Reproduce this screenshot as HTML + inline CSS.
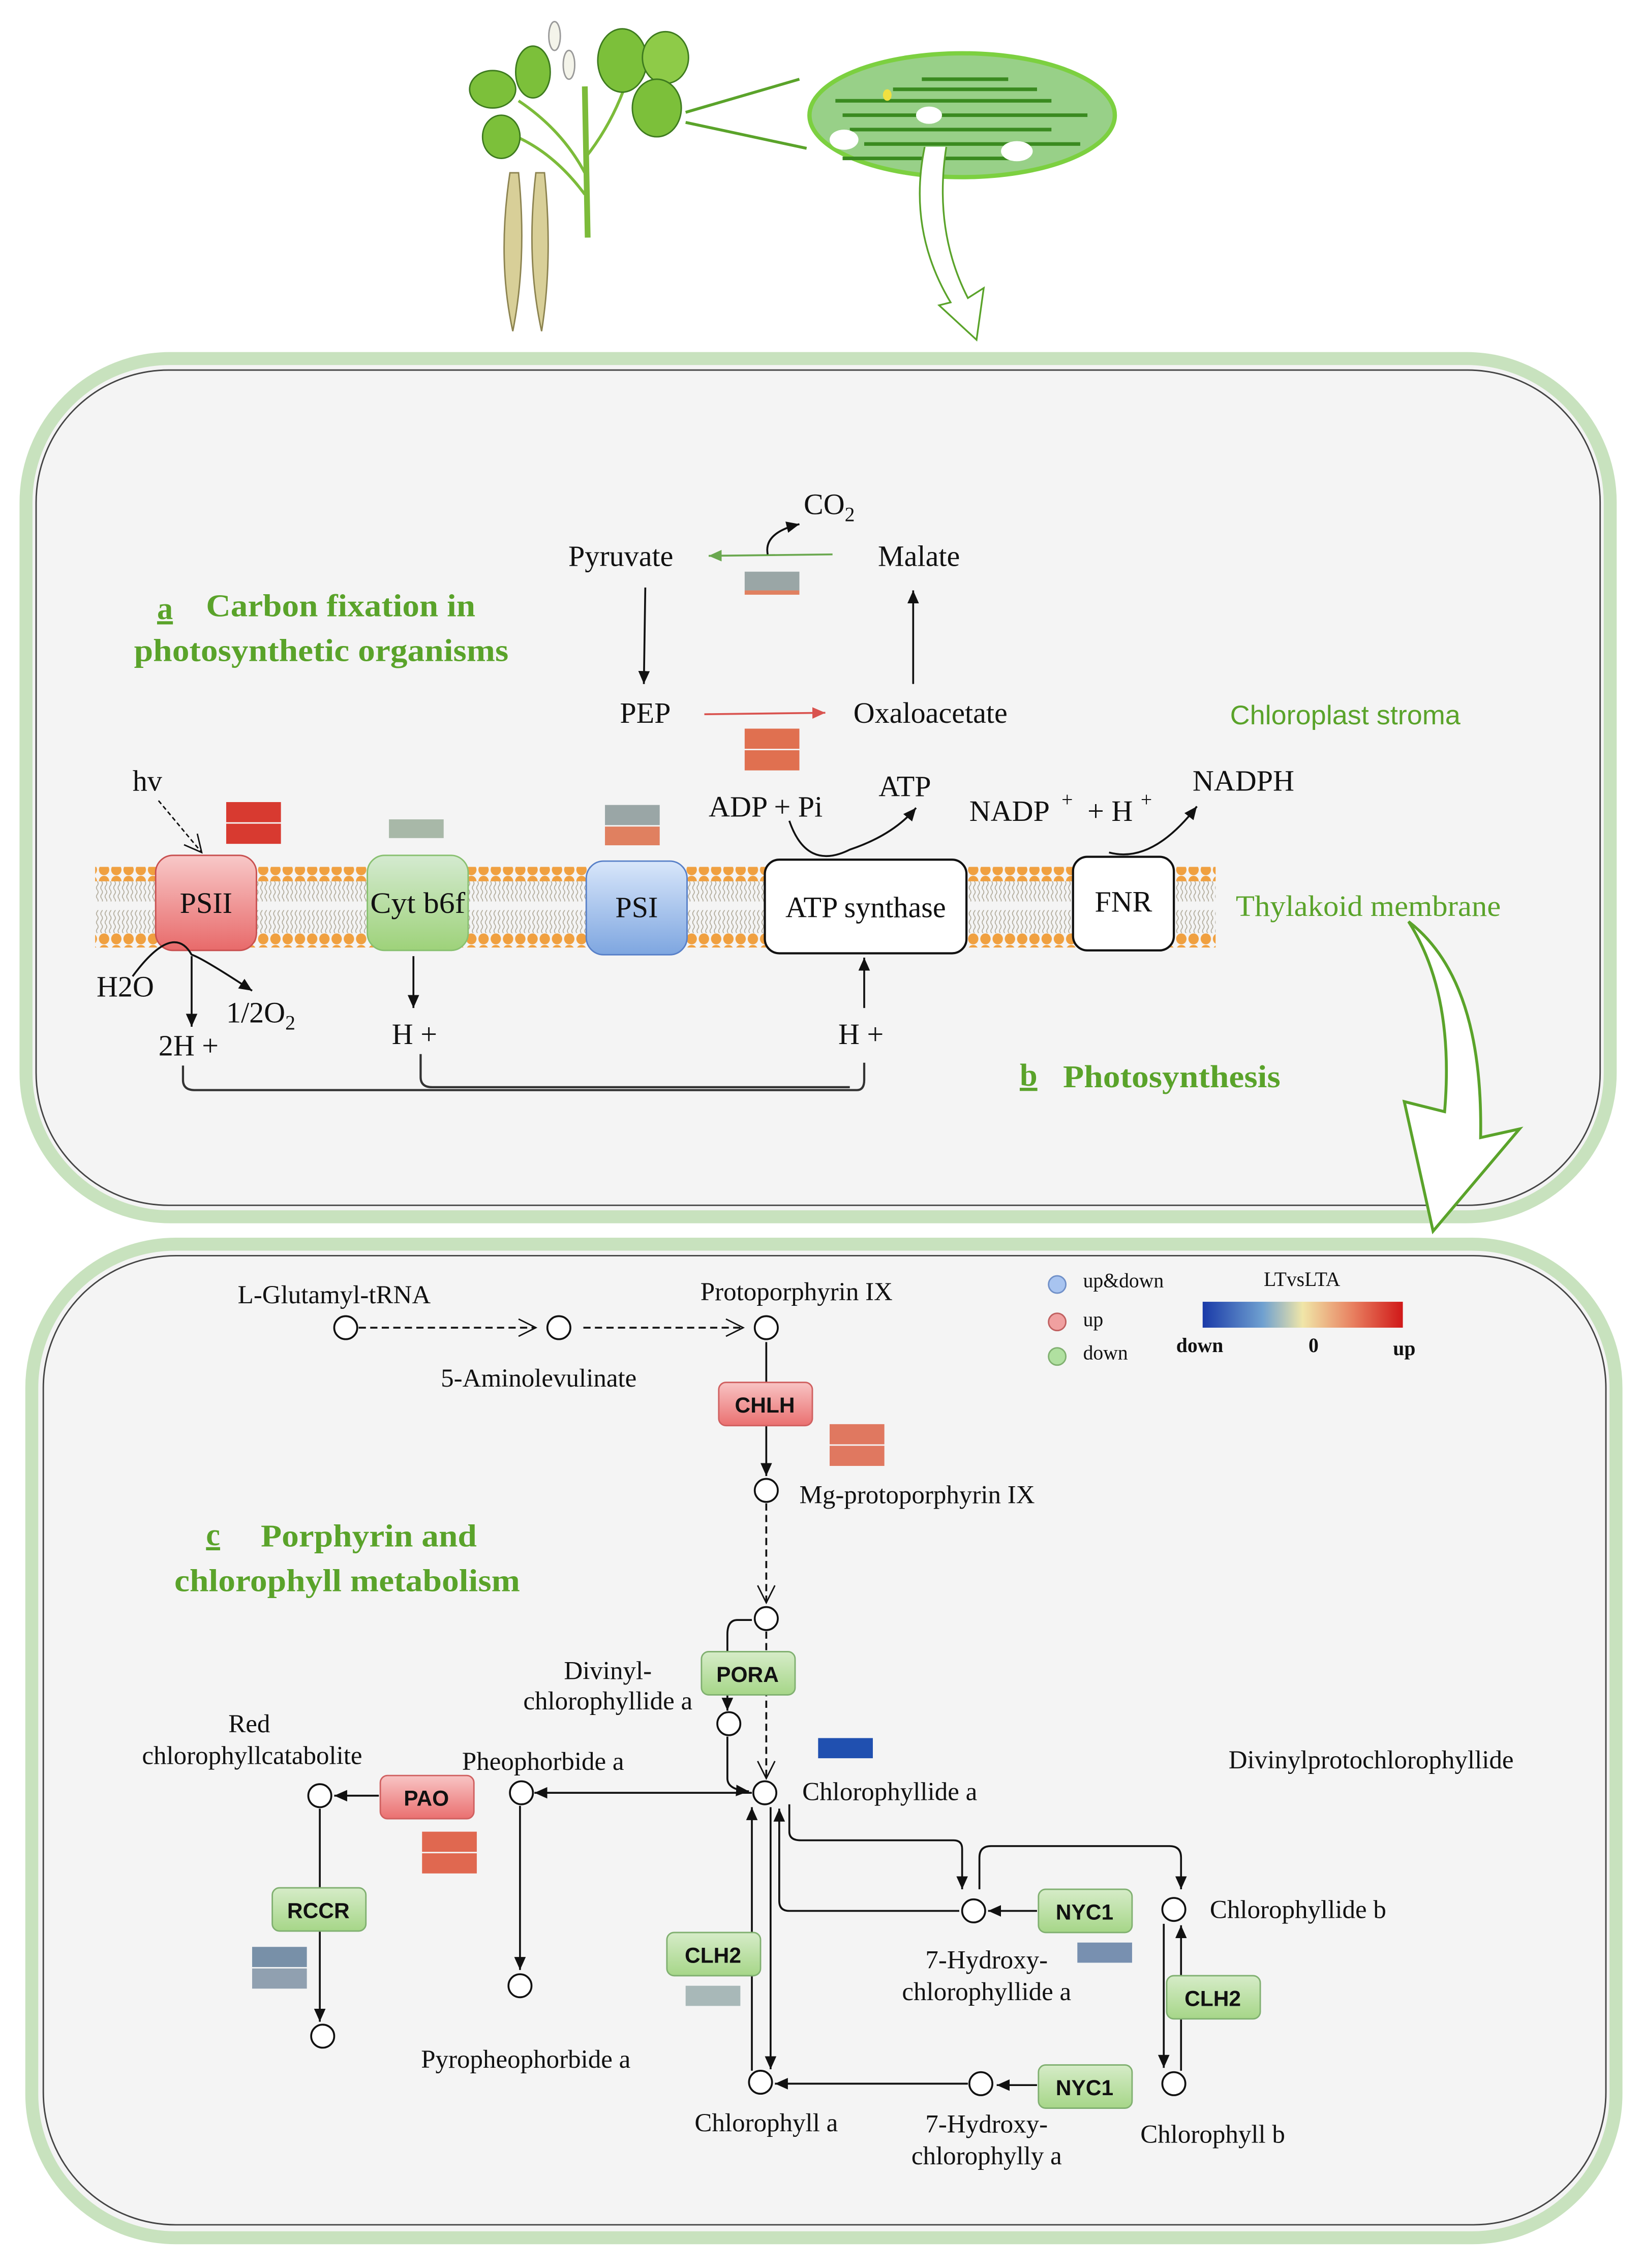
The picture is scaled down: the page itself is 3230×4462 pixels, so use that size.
<!DOCTYPE html>
<html><head><meta charset="utf-8"><style>
html,body{margin:0;padding:0;background:#fff}
svg{display:block}
text{font-family:"Liberation Serif",serif;fill:#111}
.s{font-family:"Liberation Sans",sans-serif}
.g{font-family:"Liberation Sans",sans-serif;font-weight:bold;font-size:15px;fill:#111}
.t{font-weight:bold;fill:#5aa32a;font-size:22px}
</style></head><body>
<svg width="3230" height="4462" viewBox="0 0 1140 1575" xmlns="http://www.w3.org/2000/svg">
<defs>
<marker id="a" markerWidth="10" markerHeight="10" refX="9" refY="5" orient="auto" markerUnits="userSpaceOnUse"><path d="M0,1 L9,5 L0,9 z" fill="#111"/></marker>
<marker id="o" markerWidth="14" markerHeight="14" refX="13" refY="7" orient="auto" markerUnits="userSpaceOnUse"><path d="M1,1 L13,7 L1,13" fill="none" stroke="#111" stroke-width="1"/></marker>
<marker id="ga" markerWidth="10" markerHeight="10" refX="9" refY="5" orient="auto" markerUnits="userSpaceOnUse"><path d="M0,1 L9,5 L0,9 z" fill="#6aa84f"/></marker>
<marker id="ra" markerWidth="10" markerHeight="10" refX="9" refY="5" orient="auto" markerUnits="userSpaceOnUse"><path d="M0,1 L9,5 L0,9 z" fill="#d9534f"/></marker>
<pattern id="dots" width="8.5" height="8" patternUnits="userSpaceOnUse"><ellipse cx="4.2" cy="4" rx="3.6" ry="3.8" fill="#f0a040"/></pattern>
<pattern id="wav" width="3" height="6" patternUnits="userSpaceOnUse"><path d="M1.5,0 q1.2,1.5 0,3 q-1.2,1.5 0,3" stroke="#b0aa9a" stroke-width="0.6" fill="none"/></pattern>
<linearGradient id="gr" x1="0" y1="0" x2="0" y2="1"><stop offset="0" stop-color="#f8c8c8"/><stop offset="1" stop-color="#e86a6a"/></linearGradient>
<linearGradient id="gg" x1="0" y1="0" x2="0" y2="1"><stop offset="0" stop-color="#d4ead0"/><stop offset="1" stop-color="#9ed27a"/></linearGradient>
<linearGradient id="gb" x1="0" y1="0" x2="0" y2="1"><stop offset="0" stop-color="#d8e6fa"/><stop offset="1" stop-color="#7ea6e0"/></linearGradient>
<linearGradient id="gn" x1="0" y1="0" x2="0" y2="1"><stop offset="0" stop-color="#d6ecc8"/><stop offset="1" stop-color="#a6d688"/></linearGradient>
<linearGradient id="gp" x1="0" y1="0" x2="0" y2="1"><stop offset="0" stop-color="#f8c4c4"/><stop offset="1" stop-color="#ea7070"/></linearGradient>
<linearGradient id="hm" x1="0" y1="0" x2="1" y2="0"><stop offset="0" stop-color="#1a3aa8"/><stop offset="0.3" stop-color="#6fa0d0"/><stop offset="0.5" stop-color="#f0e6a8"/><stop offset="0.75" stop-color="#e88060"/><stop offset="1" stop-color="#d01818"/></linearGradient>
</defs>
<rect width="1140" height="1575" fill="#fff"/>

<!-- plant -->
<g>
<path d="M408,165 L406,60" stroke="#7cbb3a" stroke-width="4" fill="none"/>
<path d="M406,120 Q390,90 360,70 M406,110 Q430,80 440,40 M406,135 Q380,100 345,90" stroke="#7cbb3a" stroke-width="2" fill="none"/>
<ellipse cx="342" cy="62" rx="16" ry="13" fill="#7cc03a" stroke="#3d7a1e"/>
<ellipse cx="370" cy="50" rx="12" ry="18" fill="#7cc03a" stroke="#3d7a1e"/>
<ellipse cx="348" cy="95" rx="13" ry="15" fill="#7cc03a" stroke="#3d7a1e"/>
<ellipse cx="432" cy="42" rx="17" ry="22" fill="#7cc03a" stroke="#3d7a1e"/>
<ellipse cx="462" cy="40" rx="16" ry="18" fill="#8ecb48" stroke="#3d7a1e"/>
<ellipse cx="456" cy="75" rx="17" ry="20" fill="#7cc03a" stroke="#3d7a1e"/>
<ellipse cx="385" cy="25" rx="4" ry="10" fill="#f4f4ea" stroke="#999"/>
<ellipse cx="395" cy="45" rx="4" ry="10" fill="#f4f4ea" stroke="#999"/>
<path d="M354,120 Q345,180 356,230 Q366,180 360,120z" fill="#d8cf98" stroke="#8c8350"/>
<path d="M372,120 Q365,180 376,230 Q384,180 378,120z" fill="#d8cf98" stroke="#8c8350"/>
<line x1="476" y1="78" x2="555" y2="55" stroke="#5aa32a" stroke-width="2"/>
<line x1="476" y1="85" x2="560" y2="103" stroke="#5aa32a" stroke-width="2"/>
<ellipse cx="668" cy="80" rx="106" ry="43" fill="#98d088" stroke="#7cd040" stroke-width="3"/>
<g stroke="#3a8a20" stroke-width="2.5" fill="none">
<path d="M580,70 h150 M585,80 h170 M590,90 h140 M600,100 h150 M585,110 h120 M620,62 h100 M640,55 h60"/>
</g>
<ellipse cx="645" cy="80" rx="9" ry="6" fill="#fff"/><ellipse cx="586" cy="97" rx="10" ry="7" fill="#fff"/><ellipse cx="706" cy="105" rx="11" ry="7" fill="#fff"/>
<ellipse cx="616" cy="66" rx="3" ry="4" fill="#f0e040"/>
<path d="M642,102 Q630,160 660,210 L652,212 L678,236 L683,200 L672,207 Q648,160 657,102" fill="#fff" stroke="#5aa32a" stroke-width="1.2"/>
</g>

<!-- panel 1 -->
<rect x="18" y="249" width="1100" height="596" rx="100" fill="#f4f4f4" stroke="#c8e2be" stroke-width="9"/>
<rect x="25" y="257" width="1086" height="580" rx="92" fill="#f4f4f4" stroke="#444" stroke-width="1"/>
<!-- panel 2 -->
<rect x="22" y="864" width="1100" height="690" rx="100" fill="#f4f4f4" stroke="#c8e2be" stroke-width="9"/>
<rect x="30" y="872" width="1085" height="673" rx="92" fill="#f4f4f4" stroke="#444" stroke-width="1"/>

<!-- membrane -->
<rect x="66" y="602" width="778" height="10" fill="url(#dots)"/>
<rect x="66" y="648" width="778" height="10" fill="url(#dots)"/>
<rect x="66" y="612" width="778" height="14" fill="url(#wav)"/>
<rect x="66" y="632" width="778" height="16" fill="url(#wav)"/>

<rect x="108" y="594" width="70" height="66" rx="12" fill="url(#gr)" stroke="#c85050"/>
<text x="143" y="634" font-size="20.5" text-anchor="middle">PSII</text>
<rect x="255" y="594" width="70" height="66" rx="12" fill="url(#gg)" stroke="#88c070"/>
<text x="290" y="634" font-size="20.5" text-anchor="middle" textLength="66" lengthAdjust="spacingAndGlyphs">Cyt b6f</text>
<rect x="407" y="598" width="70" height="65" rx="12" fill="url(#gb)" stroke="#5880c8"/>
<text x="442" y="637" font-size="20.5" text-anchor="middle">PSI</text>
<rect x="531" y="597" width="140" height="65" rx="10" fill="#fff" stroke="#111" stroke-width="1.5"/>
<text x="601" y="637" font-size="20.5" text-anchor="middle">ATP synthase</text>
<rect x="745" y="595" width="70" height="65" rx="10" fill="#fff" stroke="#111" stroke-width="1.5"/>
<text x="780" y="633" font-size="20.5" text-anchor="middle">FNR</text>

<!-- heat bars panel1 -->
<rect x="157" y="557" width="38" height="14" fill="#d83a30"/><rect x="157" y="572" width="38" height="14" fill="#d83a30"/>
<rect x="270" y="569" width="38" height="13" fill="#a8b8a8"/>
<rect x="420" y="559" width="38" height="14" fill="#9aa6a6"/><rect x="420" y="574" width="38" height="13" fill="#e08060"/>
<rect x="517" y="397" width="38" height="13" fill="#9aa6a6"/><rect x="517" y="410" width="38" height="3" fill="#e08060"/>
<rect x="517" y="506" width="38" height="14" fill="#e07050"/><rect x="517" y="521" width="38" height="14" fill="#e07050"/>

<!-- carbon fixation -->
<text x="431" y="393" font-size="20.5" text-anchor="middle">Pyruvate</text>
<text x="638" y="393" font-size="20.5" text-anchor="middle">Malate</text>
<text x="448" y="502" font-size="20.5" text-anchor="middle">PEP</text>
<text x="646" y="502" font-size="20.5" text-anchor="middle">Oxaloacetate</text>
<text x="558" y="357" font-size="20.5">CO<tspan font-size="14" dy="5">2</tspan></text>
<line x1="578" y1="385" x2="492" y2="386" stroke="#6aa84f" stroke-width="1.3" marker-end="url(#ga)"/>
<path d="M533,385 Q530,370 555,364" stroke="#111" fill="none" stroke-width="1.3" marker-end="url(#a)"/>
<line x1="448" y1="408" x2="447" y2="475" stroke="#111" stroke-width="1.3" marker-end="url(#a)"/>
<line x1="489" y1="496" x2="573" y2="495" stroke="#d9534f" stroke-width="1.3" marker-end="url(#ra)"/>
<line x1="634" y1="475" x2="634" y2="410" stroke="#111" stroke-width="1.3" marker-end="url(#a)"/>
<text x="109" y="430" class="t" font-size="24"><tspan text-decoration="underline">a</tspan></text>
<text x="143" y="428" class="t" textLength="187" lengthAdjust="spacingAndGlyphs">Carbon fixation in</text>
<text x="93" y="459" class="t" textLength="260" lengthAdjust="spacingAndGlyphs">photosynthetic organisms</text>
<text x="854" y="503" class="s" font-size="18.5" style="fill:#5aa32a" textLength="160" lengthAdjust="spacingAndGlyphs">Chloroplast stroma</text>
<text x="858" y="636" font-size="20.5" style="fill:#5aa32a" textLength="184" lengthAdjust="spacingAndGlyphs">Thylakoid membrane</text>
<text x="708" y="754" class="t" font-size="24"><tspan text-decoration="underline">b</tspan></text>
<text x="738" y="755" class="t" textLength="151" lengthAdjust="spacingAndGlyphs">Photosynthesis</text>

<!-- photosynthesis texts -->
<text x="92" y="549" font-size="20.5">hv</text>
<path d="M110,556 L140,592" stroke="#111" stroke-dasharray="3,2" fill="none" marker-end="url(#o)"/>
<text x="492" y="567" font-size="20.5">ADP + Pi</text>
<text x="610" y="553" font-size="20.5">ATP</text>
<path d="M548,570 Q560,605 590,590 Q620,580 636,561" stroke="#111" fill="none" stroke-width="1.3" marker-end="url(#a)"/>
<text x="673" y="570" font-size="20.5">NADP</text><text x="737" y="560" font-size="14">+</text>
<text x="755" y="570" font-size="20.5">+ H</text><text x="792" y="560" font-size="14">+</text>
<text x="828" y="549" font-size="20.5">NADPH</text>
<path d="M770,592 Q800,600 831,560" stroke="#111" fill="none" stroke-width="1.3" marker-end="url(#a)"/>
<text x="67" y="692" font-size="20.5">H2O</text>
<text x="157" y="710" font-size="20.5">1/2O<tspan font-size="14" dy="5">2</tspan></text>
<text x="110" y="733" font-size="20.5">2H +</text>
<text x="272" y="725" font-size="20.5">H +</text>
<text x="582" y="725" font-size="20.5">H +</text>
<path d="M92,678 Q120,640 133,663 Q140,665 175,688" stroke="#111" fill="none" stroke-width="1.3" marker-end="url(#a)"/>
<line x1="133" y1="664" x2="133" y2="713" stroke="#111" stroke-width="1.3" marker-end="url(#a)"/>
<line x1="287" y1="664" x2="287" y2="700" stroke="#111" stroke-width="1.3" marker-end="url(#a)"/>
<line x1="600" y1="700" x2="600" y2="665" stroke="#111" stroke-width="1.3" marker-end="url(#a)"/>
<path d="M127,740 V750 Q127,757 135,757 H595 Q600,757 600,750 V738" stroke="#333" fill="none" stroke-width="1.5"/>
<path d="M292,732 V748 Q292,755 300,755 H590" stroke="#333" fill="none" stroke-width="1.5"/>

<!-- big arrow -->
<path d="M978,640 Q1030,680 1028,790 L1055,784 L995,855 L975,765 L1003,772 Q1010,690 978,640z" fill="#fff" stroke="#5aa32a" stroke-width="2"/>

<!-- panel 2 -->
<g>
<text x="232" y="905" font-size="18" text-anchor="middle">L-Glutamyl-tRNA</text>
<text x="374" y="963" font-size="18" text-anchor="middle">5-Aminolevulinate</text>
<text x="553" y="903" font-size="18" text-anchor="middle">Protoporphyrin IX</text>
<text x="555" y="1044" font-size="18">Mg-protoporphyrin IX</text>
<text x="422" y="1166" font-size="18" text-anchor="middle">Divinyl-</text>
<text x="422" y="1187" font-size="18" text-anchor="middle">chlorophyllide a</text>
<text x="557" y="1250" font-size="18">Chlorophyllide a</text>
<text x="853" y="1228" font-size="18">Divinylprotochlorophyllide</text>
<text x="173" y="1203" font-size="18" text-anchor="middle">Red</text>
<text x="175" y="1225" font-size="18" text-anchor="middle">chlorophyllcatabolite</text>
<text x="377" y="1229" font-size="18" text-anchor="middle">Pheophorbide a</text>
<text x="365" y="1436" font-size="18" text-anchor="middle">Pyropheophorbide a</text>
<text x="840" y="1332" font-size="18">Chlorophyllide b</text>
<text x="685" y="1367" font-size="18" text-anchor="middle">7-Hydroxy-</text>
<text x="685" y="1389" font-size="18" text-anchor="middle">chlorophyllide a</text>
<text x="532" y="1480" font-size="18" text-anchor="middle">Chlorophyll a</text>
<text x="685" y="1481" font-size="18" text-anchor="middle">7-Hydroxy-</text>
<text x="685" y="1503" font-size="18" text-anchor="middle">chlorophylly a</text>
<text x="842" y="1488" font-size="18" text-anchor="middle">Chlorophyll b</text>
</g>
<text x="143" y="1073" class="t" font-size="24"><tspan text-decoration="underline">c</tspan></text>
<text x="181" y="1074" class="t" textLength="150" lengthAdjust="spacingAndGlyphs">Porphyrin and</text>
<text x="121" y="1105" class="t" textLength="240" lengthAdjust="spacingAndGlyphs">chlorophyll metabolism</text>

<!-- legend -->
<circle cx="734" cy="892" r="6" fill="#a8c4f0" stroke="#7090c8"/><text x="752" y="894" font-size="14">up&amp;down</text>
<circle cx="734" cy="918" r="6" fill="#f0a0a0" stroke="#c06060"/><text x="752" y="921" font-size="14">up</text>
<circle cx="734" cy="942" r="6" fill="#b0e0a0" stroke="#80b070"/><text x="752" y="944" font-size="14">down</text>
<text x="904" y="893" font-size="14" text-anchor="middle">LTvsLTA</text>
<rect x="835" y="904" width="139" height="18" fill="url(#hm)"/>
<text x="833" y="939" font-size="14" font-weight="bold" text-anchor="middle">down</text>
<text x="912" y="939" font-size="14" font-weight="bold" text-anchor="middle">0</text>
<text x="975" y="941" font-size="14" font-weight="bold" text-anchor="middle">up</text>

<!-- edges panel2 -->
<g stroke="#111" stroke-width="1.3" fill="none">
<line x1="249" y1="922" x2="372" y2="922" stroke-dasharray="5,3" marker-end="url(#o)"/>
<line x1="405" y1="922" x2="516" y2="922" stroke-dasharray="5,3" marker-end="url(#o)"/>
<line x1="532" y1="932" x2="532" y2="1025" marker-end="url(#a)"/>
<line x1="532" y1="1044" x2="532" y2="1113" stroke-dasharray="5,3" marker-end="url(#o)"/>
<line x1="532" y1="1133" x2="532" y2="1235" stroke-dasharray="5,3" marker-end="url(#o)"/>
<path d="M522,1125 H512 Q505,1125 505,1135 V1188" marker-end="url(#a)"/>
<path d="M505,1206 V1235 Q505,1243 520,1244" marker-end="url(#a)"/>
<line x1="522" y1="1245" x2="371" y2="1245" marker-end="url(#a)"/>
<line x1="263" y1="1247" x2="232" y2="1247" marker-end="url(#a)"/>
<line x1="361" y1="1254" x2="361" y2="1368" marker-end="url(#a)"/>
<line x1="222" y1="1256" x2="222" y2="1404" marker-end="url(#a)"/>
<path d="M548,1253 V1272 Q548,1278 556,1278 H662 Q668,1278 668,1284 V1312" marker-end="url(#a)"/>
<path d="M680,1312 V1290 Q680,1282 688,1282 H812 Q820,1282 820,1290 V1312" marker-end="url(#a)"/>
<path d="M666,1327 H548 Q541,1327 541,1320 V1256" marker-end="url(#a)"/>
<line x1="720" y1="1327" x2="686" y2="1327" marker-end="url(#a)"/>
<line x1="808" y1="1336" x2="808" y2="1436" marker-end="url(#a)"/>
<line x1="820" y1="1438" x2="820" y2="1337" marker-end="url(#a)"/>
<line x1="720" y1="1448" x2="692" y2="1448" marker-end="url(#a)"/>
<line x1="672" y1="1447" x2="538" y2="1447" marker-end="url(#a)"/>
<line x1="522" y1="1438" x2="522" y2="1255" marker-end="url(#a)"/>
<line x1="535" y1="1255" x2="535" y2="1437" marker-end="url(#a)"/>
</g>
<!-- nodes -->
<g fill="#fff" stroke="#111" stroke-width="1.3">
<circle cx="240" cy="922" r="8"/><circle cx="388" cy="922" r="8"/><circle cx="532" cy="922" r="8"/>
<circle cx="532" cy="1035" r="8"/><circle cx="532" cy="1124" r="8"/><circle cx="506" cy="1197" r="8"/>
<circle cx="531" cy="1245" r="8"/><circle cx="362" cy="1245" r="8"/><circle cx="222" cy="1247" r="8"/>
<circle cx="361" cy="1379" r="8"/><circle cx="224" cy="1414" r="8"/>
<circle cx="676" cy="1327" r="8"/><circle cx="815" cy="1326" r="8"/>
<circle cx="528" cy="1446" r="8"/><circle cx="681" cy="1447" r="8"/><circle cx="815" cy="1447" r="8"/>
</g>
<!-- gene boxes -->
<rect x="499" y="960" width="65" height="30" rx="5" fill="url(#gp)" stroke="#d06060"/><text x="531" y="981" class="g" text-anchor="middle">CHLH</text>
<rect x="487" y="1147" width="65" height="30" rx="5" fill="url(#gn)" stroke="#80b070"/><text x="519" y="1168" class="g" text-anchor="middle">PORA</text>
<rect x="264" y="1233" width="65" height="30" rx="5" fill="url(#gp)" stroke="#d06060"/><text x="296" y="1254" class="g" text-anchor="middle">PAO</text>
<rect x="189" y="1311" width="65" height="30" rx="5" fill="url(#gn)" stroke="#80b070"/><text x="221" y="1332" class="g" text-anchor="middle">RCCR</text>
<rect x="463" y="1342" width="65" height="30" rx="5" fill="url(#gn)" stroke="#80b070"/><text x="495" y="1363" class="g" text-anchor="middle">CLH2</text>
<rect x="721" y="1312" width="65" height="30" rx="5" fill="url(#gn)" stroke="#80b070"/><text x="753" y="1333" class="g" text-anchor="middle">NYC1</text>
<rect x="810" y="1372" width="65" height="30" rx="5" fill="url(#gn)" stroke="#80b070"/><text x="842" y="1393" class="g" text-anchor="middle">CLH2</text>
<rect x="721" y="1434" width="65" height="30" rx="5" fill="url(#gn)" stroke="#80b070"/><text x="753" y="1455" class="g" text-anchor="middle">NYC1</text>
<!-- heat bars panel2 -->
<rect x="576" y="989" width="38" height="14" fill="#e07860"/><rect x="576" y="1004" width="38" height="14" fill="#e07860"/>
<rect x="568" y="1207" width="38" height="14" fill="#2050b0"/>
<rect x="293" y="1272" width="38" height="14" fill="#e06850"/><rect x="293" y="1287" width="38" height="14" fill="#e06850"/>
<rect x="175" y="1352" width="38" height="14" fill="#7890a8"/><rect x="175" y="1367" width="38" height="14" fill="#90a0b0"/>
<rect x="476" y="1379" width="38" height="14" fill="#a8b8b8"/>
<rect x="748" y="1349" width="38" height="14" fill="#7890b0"/>
</svg>
</body></html>
